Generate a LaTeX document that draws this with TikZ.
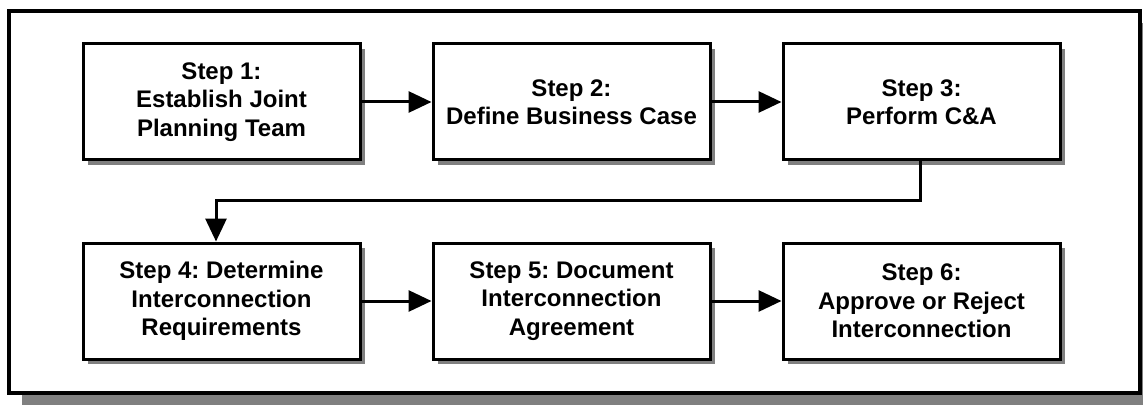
\documentclass[tikz,border=0pt]{standalone}
\usepackage{fontspec}
\setmainfont{Liberation Sans}
\usetikzlibrary{arrows.meta,shadows}
\frenchspacing
\tikzset{
  stepbox/.style={draw=black,line width=3pt,fill=white,minimum width=277pt,minimum height=116pt,
    inner sep=0pt,align=center,font=\bfseries\fontsize{24}{28.5}\selectfont,
    drop shadow={shadow xshift=5pt,shadow yshift=-5pt,fill=black!50,opacity=1}},
  frame/.style={draw=black,line width=3.5pt,fill=white},
  conn/.style={line width=3pt,-{Triangle[length=23pt,width=21pt]}}
}
\begin{document}
\begin{tikzpicture}[x=1pt,y=1pt]
\useasboundingbox (0,0) rectangle (1143,405);
\clip (0,0) rectangle (1143,405);
% frame shadow and frame
\fill[black!50] (22,0) rectangle (1155,382);
\node[frame,minimum width=1131pt,minimum height=382pt,inner sep=0pt] (frame) at (574.5,203) {};
% boxes
\node[stepbox] (s1) at (221.5,303) {Step 1:\\Establish Joint\\Planning Team};
\node[stepbox] (s2) at (571.5,303) {Step 2:\\Define Business Case};
\node[stepbox] (s3) at (921.5,303) {Step 3:\\Perform C\&A};
\node[stepbox] (s4) at (221.5,104) {Step 4: Determine\\Interconnection\\Requirements};
\node[stepbox] (s5) at (571.5,104) {Step 5: Document\\Interconnection\\Agreement};
\node[stepbox] (s6) at (921.5,104) {Step 6:\\Approve or Reject\\Interconnection};
% connectors
\draw[conn] (s1.east) -- (s2.west);
\draw[conn] (s2.east) -- (s3.west);
\draw[conn] (s4.east) -- (s5.west);
\draw[conn] (s5.east) -- (s6.west);
\coordinate (c1) at (920,205);
\coordinate (c2) at (216,205);
\draw[conn] (s3.south -| c1) -- (c1) -- (c2) -- (s4.north -| c2);
\end{tikzpicture}
\end{document}
